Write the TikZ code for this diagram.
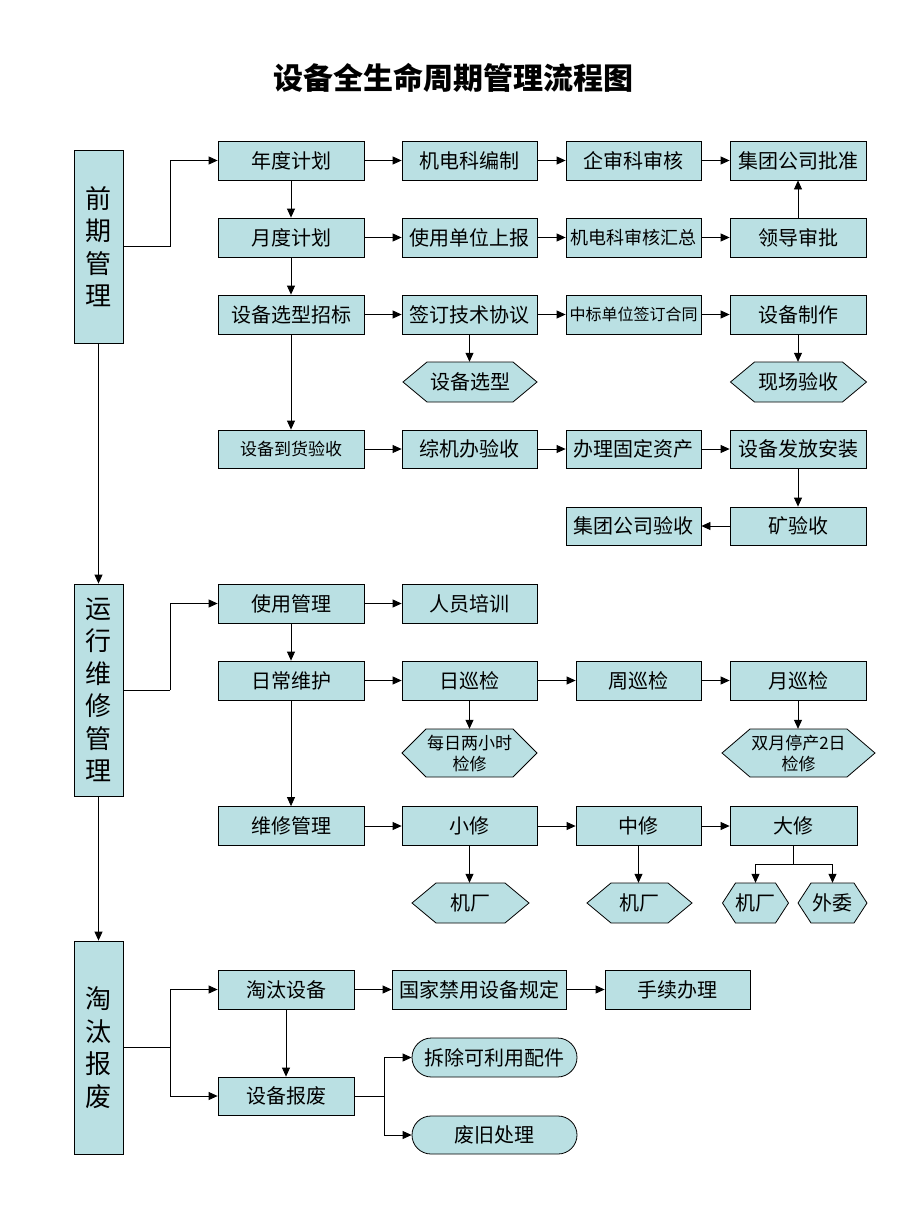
\documentclass[tikz,border=0pt]{standalone}
\usepackage{fontspec}
\setmainfont{Noto Sans CJK SC}
\usetikzlibrary{arrows.meta,shapes.misc}
\definecolor{boxfill}{RGB}{186,224,227}
\tikzset{
  box/.style={draw=black, fill=boxfill, line width=0.8pt, inner sep=0pt,
    font=\fontsize{20}{24}\selectfont, minimum height=39pt},
  sfont/.style={font=\fontsize{17}{21}\selectfont},
  side/.style={box, font=\fontsize{26}{32.5}\selectfont, align=center, minimum width=49pt},
  hexline/.style={draw=black, fill=boxfill, line width=0.8pt},
  hexlabel/.style={inner sep=0pt, align=center, font=\fontsize{20}{24}\selectfont},
  pill/.style={rounded rectangle, draw=black, fill=boxfill, line width=0.8pt,
    inner sep=0pt, minimum height=39pt, minimum width=165pt, font=\fontsize{20}{24}\selectfont},
  arr/.style={line width=0.8pt, -{Triangle[length=9pt,width=8pt]}},
  ln/.style={line width=0.8pt},
}
% name, cx, cy, half width, half height, inset, extra style, text
\newcommand{\hexa}[8]{%
  \draw[hexline] ({#2-#4},#3) -- ({#2-#4+#6},{#3-#5}) -- ({#2+#4-#6},{#3-#5})
     -- ({#2+#4},#3) -- ({#2+#4-#6},{#3+#5}) -- ({#2-#4+#6},{#3+#5}) -- cycle;
  \node[hexlabel, minimum width=2*#4pt, minimum height=2*#5pt, #7] (#1) at (#2,#3) {#8};
}
\begin{document}
\begin{tikzpicture}[x=1pt,y=-1pt]
\useasboundingbox (0,0) rectangle (920,1226);
\node[font=\fontsize{30}{36}\selectfont\bfseries] (title) at (453.5,78) {设备全生命周期管理流程图};

% side boxes
\node[side, minimum height=193pt] (s1) at (98.5,246.5) {前\\期\\管\\理};
\node[side, minimum height=212pt] (s2) at (98.5,690) {运\\行\\维\\修\\管\\理};
\node[side, minimum height=213pt] (s3) at (98.5,1047.5) {淘\\汰\\报\\废};

% section 1
\node[box, minimum width=146pt] (a1) at (291,160.5) {年度计划};
\node[box, minimum width=135pt] (b1) at (469.5,160.5) {机电科编制};
\node[box, minimum width=135pt] (c1) at (633.5,160.5) {企审科审核};
\node[box, minimum width=136pt] (d1) at (798,160.5) {集团公司批准};
\node[box, minimum width=146pt] (a2) at (291,237.5) {月度计划};
\node[box, minimum width=135pt] (b2) at (469.5,237.5) {使用单位上报};
\node[box, minimum width=135pt, font=\fontsize{18}{22}\selectfont] (c2) at (633.5,237.5) {机电科审核汇总};
\node[box, minimum width=136pt] (d2) at (798,237.5) {领导审批};
\node[box, minimum width=146pt] (a3) at (291,314.5) {设备选型招标};
\node[box, minimum width=135pt] (b3) at (469.5,314.5) {签订技术协议};
\node[box, minimum width=135pt, font=\fontsize{16}{20}\selectfont] (c3) at (633.5,314.5) {中标单位签订合同};
\node[box, minimum width=136pt] (d3) at (798,314.5) {设备制作};
\hexa{e3}{470}{382}{67}{20}{24}{}{设备选型}
\hexa{f3}{798.5}{382}{68}{20}{24}{}{现场验收}
\node[box, minimum width=146pt, minimum height=38pt, sfont] (a4) at (291,449) {设备到货验收};
\node[box, minimum width=135pt, minimum height=38pt] (b4) at (469.5,449) {综机办验收};
\node[box, minimum width=135pt, minimum height=38pt] (c4) at (633.5,449) {办理固定资产};
\node[box, minimum width=136pt, minimum height=38pt] (d4) at (798,449) {设备发放安装};
\node[box, minimum width=136pt, minimum height=38pt] (d5) at (798,526) {矿验收};
\node[box, minimum width=135pt, minimum height=38pt] (c5) at (633.5,526) {集团公司验收};

\draw[ln] (s1.east) -- ++(47,0) coordinate (j1);
\draw[arr] (j1) |- (a1.west);
\draw[arr] (a1.east) -- (b1.west);
\draw[arr] (b1.east) -- (c1.west);
\draw[arr] (c1.east) -- (d1.west);
\draw[arr] (a2.east) -- (b2.west);
\draw[arr] (b2.east) -- (c2.west);
\draw[arr] (c2.east) -- (d2.west);
\draw[arr] (d2.north) -- (d1.south);
\draw[arr] (a3.east) -- (b3.west);
\draw[arr] (b3.east) -- (c3.west);
\draw[arr] (c3.east) -- (d3.west);
\draw[arr] (b3.south) -- (b3.south |- e3.north);
\draw[arr] (d3.south) -- (d3.south |- f3.north);
\draw[arr] (a1.south) -- (a2.north);
\draw[arr] (a2.south) -- (a3.north);
\draw[arr] (a3.south) -- (a4.north);
\draw[arr] (a4.east) -- (b4.west);
\draw[arr] (b4.east) -- (c4.west);
\draw[arr] (c4.east) -- (d4.west);
\draw[arr] (d4.south) -- (d5.north);
\draw[arr] (d5.west) -- (c5.east);

\draw[arr] (s1.south) -- (s2.north);
\draw[arr] (s2.south) -- (s3.north);

% section 2
\node[box, minimum width=146pt] (u1) at (291,603.5) {使用管理};
\node[box, minimum width=135pt] (u2) at (469.5,603.5) {人员培训};
\node[box, minimum width=146pt] (r1) at (291,680.5) {日常维护};
\node[box, minimum width=135pt] (r2) at (469.5,680.5) {日巡检};
\node[box, minimum width=125pt] (r3) at (638.5,680.5) {周巡检};
\node[box, minimum width=136pt] (r4) at (798,680.5) {月巡检};
\hexa{h1}{469.5}{753}{67.5}{24}{24}{sfont}{每日两小时\\检修}
\hexa{h2}{798.5}{753}{76.5}{24}{28}{sfont}{双月停产2日\\检修}
\node[box, minimum width=146pt] (m1) at (291,826) {维修管理};
\node[box, minimum width=135pt] (m2) at (469.5,826) {小修};
\node[box, minimum width=125pt] (m3) at (638.5,826) {中修};
\node[box, minimum width=127pt] (m4) at (793.5,826) {大修};
\hexa{k1}{470.5}{903}{58.5}{20}{24}{}{机厂}
\hexa{k2}{639.5}{903}{52.5}{20}{24}{}{机厂}
\hexa{k3}{755.5}{903}{33}{20}{13}{}{机厂}
\hexa{k4}{832.5}{903}{34.5}{20}{13}{}{外委}

\draw[ln] (s2.east) -- ++(47,0) coordinate (j2);
\draw[arr] (j2) |- (u1.west);
\draw[arr] (u1.east) -- (u2.west);
\draw[arr] (u1.south) -- (r1.north);
\draw[arr] (r1.east) -- (r2.west);
\draw[arr] (r2.east) -- (r3.west);
\draw[arr] (r3.east) -- (r4.west);
\draw[arr] (r2.south) -- (r2.south |- h1.north);
\draw[arr] (r4.south) -- (r4.south |- h2.north);
\draw[arr] (r1.south) -- (m1.north);
\draw[arr] (m1.east) -- (m2.west);
\draw[arr] (m2.east) -- (m3.west);
\draw[arr] (m3.east) -- (m4.west);
\draw[arr] (m2.south) -- (m2.south |- k1.north);
\draw[arr] (m3.south) -- (m3.south |- k2.north);
\draw[ln] (m4.south) -- ++(0,18) coordinate (j5);
\draw[arr] (j5) -| (k3.north);
\draw[arr] (j5) -| (k4.north);

% section 3
\node[box, minimum width=136pt] (t1) at (286,989.5) {淘汰设备};
\node[box, minimum width=174pt] (t2) at (479,989.5) {国家禁用设备规定};
\node[box, minimum width=145pt] (t3) at (677.5,989.5) {手续办理};
\node[box, minimum width=136pt, minimum height=38pt] (t4) at (286,1096) {设备报废};
\node[pill] (p1) at (494.5,1057.5) {拆除可利用配件};
\node[pill, minimum height=38pt] (p2) at (494.5,1135) {废旧处理};

\draw[ln] (s3.east) -- ++(47,0) coordinate (j3);
\draw[arr] (j3) |- (t1.west);
\draw[arr] (j3) |- (t4.west);
\draw[arr] (t1.east) -- (t2.west);
\draw[arr] (t2.east) -- (t3.west);
\draw[arr] (t1.south) -- (t4.north);
\draw[ln] (t4.east) -- ++(30,0) coordinate (j4);
\draw[arr] (j4) |- (p1.west);
\draw[arr] (j4) |- (p2.west);
\end{tikzpicture}
\end{document}
